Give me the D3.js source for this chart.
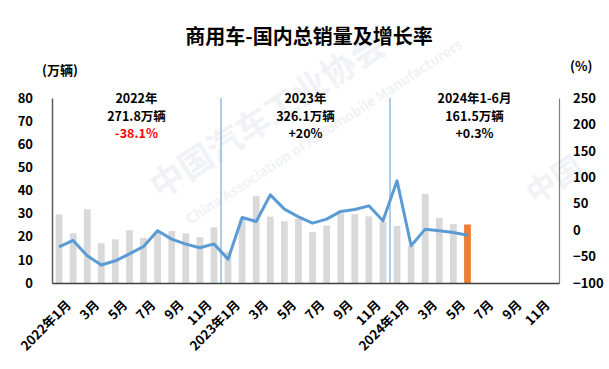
<!DOCTYPE html>
<html>
<head>
<meta charset="utf-8">
<script src="https://cdn.jsdelivr.net/npm/d3@7"></script>
<style>
  body { margin: 0; background: #fff; }
  text { font-family: "Noto Sans CJK SC", "Noto Sans", sans-serif; }
</style>
</head>
<body>
<script>
// months 2022-01 .. 2024-12
var months = [];
[2022, 2023, 2024].forEach(function (y) {
    for (var m = 1; m <= 12; m++) months.push(y + '-' + m);
});

// sales, 万辆 (2024-7 onwards not yet reported)
var sales = [
    29.7, 21.5, 31.9, 17.2, 18.9, 22.8, 19.5, 22.5, 22.5, 21.5, 19.8, 24.1,
    13.5, 27.5, 37.6, 28.7, 26.7, 27.7, 22.0, 24.9, 30.1, 29.8, 28.8, 26.5,
    24.7, 16.0, 38.5, 28.2, 25.5, 25.3
];
// growth rate, %
var growth = [
    -31.6, -19.5, -48.5, -66, -58, -45, -31, -1, -17, -26.5, -33.4, -26,
    -55, 24, 16.4, 66.8, 39.7, 25.2, 13.2, 20.8, 35.4, 39.1, 46, 17.7,
    93.3, -29.6, 1.9, -1.3, -4.4, -9.5
];
var leftTicks = [0, 10, 20, 30, 40, 50, 60, 70, 80];
var rightTicks = [-100, -50, 0, 50, 100, 150, 200, 250];
var notes = [
    { from: '2022-1', to: '2022-12', lines: ['2022年', '271.8万辆', '-38.1%'], red: true },
    { from: '2023-1', to: '2023-12', lines: ['2023年', '326.1万辆', '+20%'], red: false },
    { from: '2024-1', to: '2024-12', lines: ['2024年1-6月', '161.5万辆', '+0.3%'], red: false }
];

var svg = d3.select('body').append('svg')
    .attr('width', 609)
    .attr('height', 369);

var pLeft = 52, pRight = 559, pTop = 98, pBottom = 283;

var x = d3.scaleBand().domain(months).range([pLeft, pRight]).paddingInner(0.52).paddingOuter(0.26);
var yL = d3.scaleLinear().domain([0, 80]).range([pBottom, pTop]);
var yR = d3.scaleLinear().domain([-100, 250]).range([pBottom, pTop]);
var cx = function (m) { return x(m) + x.bandwidth() / 2; };

// faint watermark
var wm = svg.append('g').attr('fill', '#f1f2f5').attr('font-weight', 'bold');
wm.append('text')
    .attr('transform', 'translate(160,200) rotate(-33)')
    .attr('font-size', 34)
    .text('中国汽车工业协会');
wm.append('text')
    .attr('transform', 'translate(190,225) rotate(-33)')
    .attr('font-size', 14)
    .text('China Association of Automobile Manufacturers');
wm.append('text')
    .attr('transform', 'translate(535,205) rotate(-33)')
    .attr('font-size', 30)
    .text('中国');

// title
svg.append('text')
    .attr('x', 309).attr('y', 44)
    .attr('text-anchor', 'middle')
    .attr('font-size', 20).attr('font-weight', 'bold')
    .text('商用车-国内总销量及增长率');
svg.append('text').attr('x', 42).attr('y', 75)
    .attr('font-size', 13).attr('font-weight', 'bold').text('(万辆)');
svg.append('text').attr('x', 570).attr('y', 71)
    .attr('font-size', 13).attr('font-weight', 'bold').text('(%)');

// bars
svg.selectAll('rect.bar')
    .data(sales)
    .enter()
    .append('rect')
    .attr('class', 'bar')
    .attr('x', function (d, i) { return x(months[i]); })
    .attr('width', x.bandwidth())
    .attr('y', function (d) { return yL(d); })
    .attr('height', function (d) { return yL(0) - yL(d); })
    .attr('fill', function (d, i) { return i === sales.length - 1 ? '#ed7d31' : '#d9d9d9'; });

// year separators
[months[12], months[24]].forEach(function (m) {
    var xx = x(m) - x.step() * x.paddingInner() / 2;
    svg.append('line')
        .attr('x1', xx).attr('x2', xx)
        .attr('y1', pTop).attr('y2', pBottom)
        .attr('stroke', '#5b9bd5').attr('stroke-width', 1);
});

// growth line
var line = d3.line()
    .x(function (d, i) { return cx(months[i]); })
    .y(function (d) { return yR(d); });
svg.append('path')
    .datum(growth)
    .attr('d', line)
    .attr('fill', 'none')
    .attr('stroke', '#5b9bd5')
    .attr('stroke-width', 3)
    .attr('stroke-linejoin', 'round');

// axes
var axL = svg.append('g')
    .attr('transform', 'translate(' + pLeft + ',0)')
    .call(d3.axisLeft(yL).tickValues(leftTicks).tickSize(0).tickPadding(19));
var axR = svg.append('g')
    .attr('transform', 'translate(' + pRight + ',0)')
    .call(d3.axisRight(yR).tickValues(rightTicks).tickSize(0).tickPadding(14));
var xLabels = months.filter(function (m, i) { return i % 2 === 0; });
var axB = svg.append('g')
    .attr('transform', 'translate(0,' + pBottom + ')')
    .call(d3.axisBottom(x).tickValues(xLabels).tickSize(0).tickPadding(8)
        .tickFormat(function (m) {
            var p = m.split('-');
            return p[1] === '1' ? p[0] + '年1月' : p[1] + '月';
        }));
axB.selectAll('text')
    .attr('text-anchor', 'end')
    .attr('dy', '0.35em')
    .attr('transform', 'translate(4,14) rotate(-45)');

[axL, axR, axB].forEach(function (g) {
    g.selectAll('text')
        .attr('font-size', 13)
        .attr('font-weight', 'bold')
        .attr('fill', '#000')
        .style('font-family', '"Noto Sans CJK SC", sans-serif');
});
axL.select('.domain').attr('stroke', '#595959').attr('stroke-width', 1.5);
axR.select('.domain').attr('stroke', '#7f7f7f').attr('stroke-width', 1.2);
axB.select('.domain').attr('stroke', '#404040').attr('stroke-width', 1.5);

// yearly notes
notes.forEach(function (n) {
    var mid = (x(n.from) + x(n.to) + x.bandwidth()) / 2;
    n.lines.forEach(function (t, j) {
        svg.append('text')
            .attr('x', mid)
            .attr('y', 103 + j * 17.5)
            .attr('text-anchor', 'middle')
            .attr('font-size', 12.5)
            .attr('font-weight', 'bold')
            .attr('fill', n.red && j === 2 ? '#ff0000' : '#000')
            .text(t);
    });
});
</script>
</body>
</html>
